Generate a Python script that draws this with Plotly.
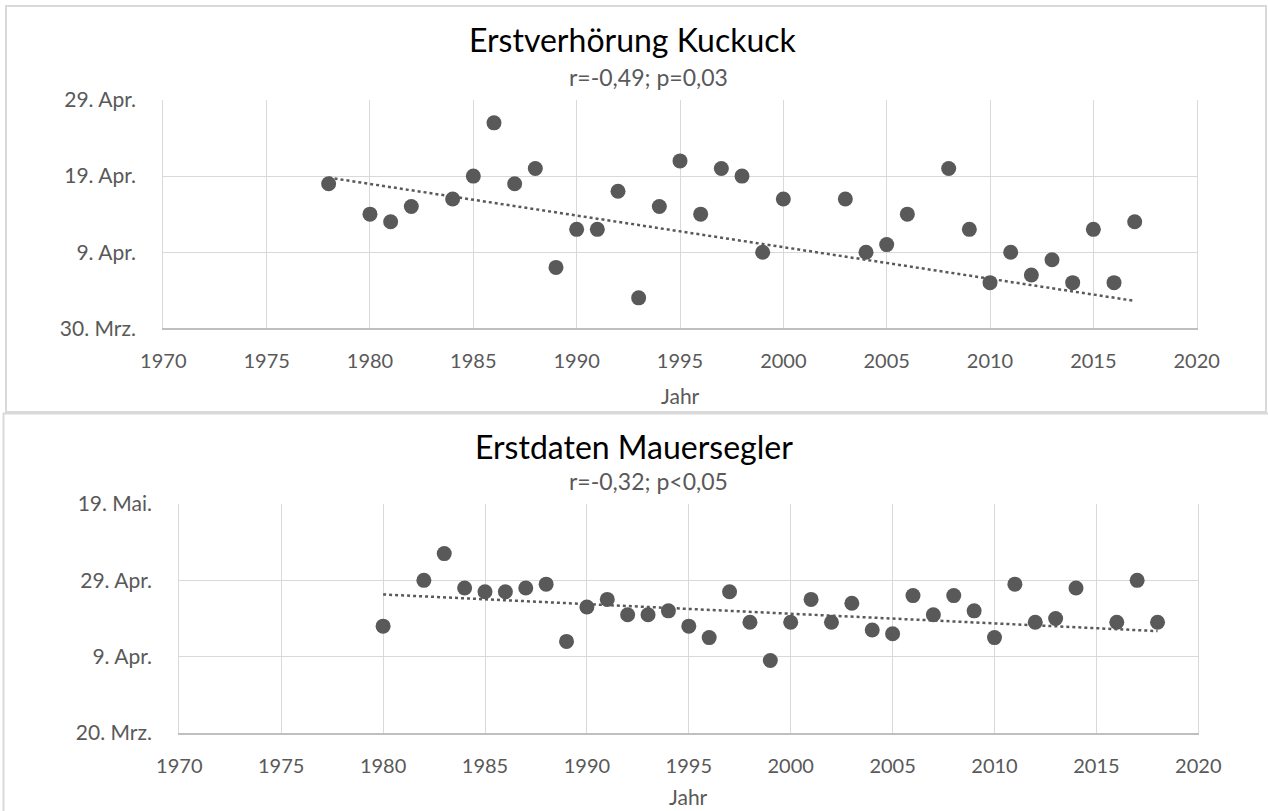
import plotly.graph_objects as go

# ---------- data (y values = day of April; 30. Mrz = -1, 19. Mai = 49) ----------
kuckuck_jahr = [1978, 1980, 1981, 1982, 1984, 1985, 1986, 1987, 1988, 1989,
                1990, 1991, 1992, 1993, 1994, 1995, 1996, 1997, 1998, 1999,
                2000, 2003, 2004, 2005, 2006, 2008, 2009, 2010, 2011, 2012,
                2013, 2014, 2015, 2016, 2017]
kuckuck_tag = [18, 14, 13, 15, 16, 19, 26, 18, 20, 7,
               12, 12, 17, 3, 15, 21, 14, 20, 19, 9,
               16, 16, 9, 10, 14, 20, 12, 5, 9, 6,
               8, 5, 12, 5, 13]
# trend line as shown in the chart (end points)
kuckuck_trend_jahr = [1978, 2017]
kuckuck_trend_tag = [18.8, 2.6]

segler_jahr = [1980, 1982, 1983, 1984, 1985, 1986, 1987, 1988, 1989, 1990,
               1991, 1992, 1993, 1994, 1995, 1996, 1997, 1998, 1999, 2000,
               2001, 2002, 2003, 2004, 2005, 2006, 2007, 2008, 2009, 2010,
               2011, 2012, 2013, 2014, 2016, 2017, 2018]
segler_tag = [17, 29, 36, 27, 26, 26, 27, 28, 13, 22,
              24, 20, 20, 21, 17, 14, 26, 18, 8, 18,
              24, 18, 23, 16, 15, 25, 20, 25, 21, 14,
              28, 18, 19, 27, 18, 29, 18]
segler_trend_jahr = [1980, 2018]
segler_trend_tag = [25.3, 15.7]

x_ticks = [1970, 1975, 1980, 1985, 1990, 1995, 2000, 2005, 2010, 2015, 2020]
k_ytick_vals = [-1, 9, 19, 29]
k_ytick_text = ["30. Mrz.", "9. Apr.", "19. Apr.", "29. Apr."]
s_ytick_vals = [-11, 9, 29, 49]
s_ytick_text = ["20. Mrz.", "9. Apr.", "29. Apr.", "19. Mai."]

titel_k = "Erstverhörung Kuckuck"
stat_k = "r=-0,49; p=0,03"
titel_s = "Erstdaten Mauersegler"
stat_s = "r=-0,32; p<0,05"
achse_x = "Jahr"

W, H = 1268, 811
FONT = "Lato"
GREY = "#595959"
GRID = "#d9d9d9"

def px_x(p):
    return p / W

def px_y(p):
    return 1 - p / H

fig = go.Figure()

def add_series(xs, ys, txs, tys, xa, ya):
    fig.add_trace(go.Scatter(x=xs, y=ys, mode="markers", xaxis=xa, yaxis=ya,
                             marker=dict(color=GREY, size=15, line=dict(width=0)),
                             showlegend=False, hoverinfo="x+y"))
    fig.add_trace(go.Scatter(x=txs, y=tys, mode="lines", xaxis=xa, yaxis=ya,
                             line=dict(color=GREY, width=2.5, dash="dot"),
                             showlegend=False, hoverinfo="skip"))

add_series(kuckuck_jahr, kuckuck_tag, kuckuck_trend_jahr, kuckuck_trend_tag, "x", "y")
add_series(segler_jahr, segler_tag, segler_trend_jahr, segler_trend_tag, "x2", "y2")

xcommon = dict(range=[1970, 2020], tickmode="array", tickvals=x_ticks,
               showgrid=True, gridcolor=GRID, gridwidth=1.3,
               showline=True, linecolor="#bfbfbf", linewidth=1.5, mirror=False,
               zeroline=False, ticks="", ticklabelstandoff=14, automargin=False,
               tickfont=dict(family=FONT, size=20, color=GREY))
ycommon = dict(showgrid=True, gridcolor=GRID, gridwidth=1.3,
               showline=True, linecolor=GRID, linewidth=1.3, mirror=True,
               zeroline=False, ticks="", ticklabelstandoff=22, automargin=False,
               tickfont=dict(family=FONT, size=21, color=GREY))

fig.update_layout(
    width=W, height=H,
    margin=dict(l=0, r=0, t=0, b=0, pad=0, autoexpand=False),
    paper_bgcolor="white", plot_bgcolor="white",
    xaxis=dict(domain=[px_x(163.3), px_x(1196.7)], anchor="y", **xcommon),
    yaxis=dict(domain=[px_y(328.3), px_y(100)], anchor="x", range=[-1, 29],
               tickmode="array", tickvals=k_ytick_vals, ticktext=k_ytick_text, **ycommon),
    xaxis2=dict(domain=[px_x(179.3), px_x(1198.3)], anchor="y2", **xcommon),
    yaxis2=dict(domain=[px_y(733), px_y(504)], anchor="x2", range=[-11, 49],
                tickmode="array", tickvals=s_ytick_vals, ticktext=s_ytick_text, **ycommon),
)

# chart frames
fig.add_shape(type="rect", xref="paper", yref="paper",
              x0=px_x(6), x1=px_x(1266), y0=px_y(412), y1=px_y(6),
              line=dict(color=GRID, width=2), layer="below")
fig.add_shape(type="rect", xref="paper", yref="paper",
              x0=px_x(3.5), x1=px_x(1290), y0=px_y(840), y1=px_y(413.5),
              line=dict(color=GRID, width=2), layer="below")

def ann(text, xc, yc, size, color):
    fig.add_annotation(text=text, xref="paper", yref="paper",
                       x=px_x(xc), y=px_y(yc), xanchor="center", yanchor="middle",
                       showarrow=False, font=dict(family=FONT, size=size, color=color))

ann(titel_k, 633, 40, 32, "#000000")
ann(stat_k, 648, 77, 23, GREY)
ann(achse_x, 680, 395, 21, GREY)
ann(titel_s, 634, 446, 32, "#000000")
ann(stat_s, 648, 481, 23, GREY)
ann(achse_x, 688, 796, 21, GREY)

fig.write_html("out.html", config={"displayModeBar": False},
               post_script="document.body.style.margin='0';document.body.style.overflow='hidden';")
